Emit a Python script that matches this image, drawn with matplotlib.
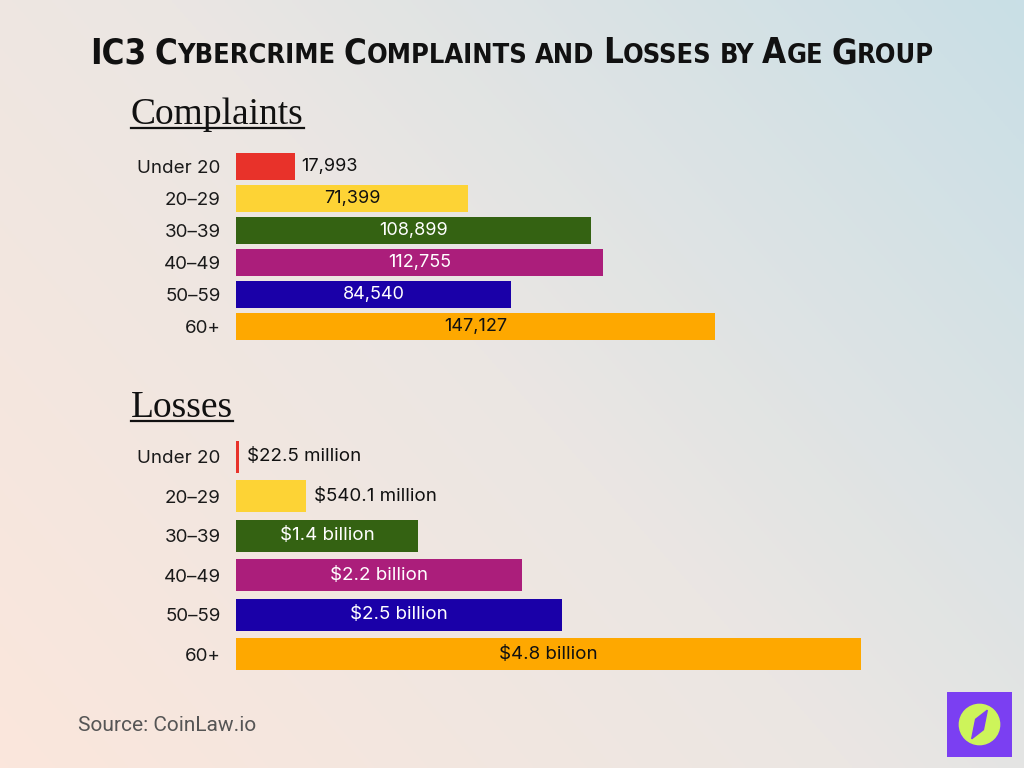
import matplotlib
matplotlib.use("Agg")
import matplotlib.pyplot as plt
import numpy as np
from matplotlib.colors import LinearSegmentedColormap
from matplotlib.patches import Rectangle, Circle, Polygon
from matplotlib.lines import Line2D

# ---------------- data ----------------
age_groups = ["Under 20", "20–29", "30–39", "40–49", "50–59", "60+"]
complaints = [17993, 71399, 108899, 112755, 84540, 147127]
complaint_labels = ["17,993", "71,399", "108,899", "112,755", "84,540", "147,127"]
losses_millions = [22.5, 540.1, 1400, 2200, 2500, 4800]
loss_labels = ["$22.5 million", "$540.1 million", "$1.4 billion",
               "$2.2 billion", "$2.5 billion", "$4.8 billion"]
bar_colors = ["#e8322a", "#fdd335", "#346212", "#ab1e7b", "#1a00a8", "#fea800"]
label_colors = ["#111111", "#111111", "#ffffff", "#ffffff", "#ffffff", "#111111"]
complaints_inside = [False, True, True, True, True, True]
losses_inside = [False, False, True, True, True, True]

W, H = 1024, 768
fig = plt.figure(figsize=(W / 100, H / 100), dpi=100)

# ---------------- background gradient ----------------
bg = fig.add_axes([0, 0, 1, 1], zorder=-10)
xx, yy = np.meshgrid(np.linspace(0, 1, 256), np.linspace(1, 0, 256))
t = (xx * 0.6 + yy * 0.4)
cmap = LinearSegmentedColormap.from_list(
    "bg", [(0, "#fbe6dc"), (0.5, "#ebe6e3"), (1, "#c9dfe6")])
bg.imshow(t, cmap=cmap, aspect="auto", extent=[0, 1, 0, 1], vmin=0, vmax=1)
bg.set_axis_off()

label_font = ["Inter", "DejaVu Sans"]


def px_axes(left, top, right, bottom):
    return fig.add_axes([left / W, 1 - bottom / H, (right - left) / W, (bottom - top) / H])


def draw_section(ax, values, labels, inside, vmax_px_value, bar_h, fs, vfs, off):
    y = np.arange(len(age_groups))
    ax.barh(y, values, height=bar_h, color=bar_colors, zorder=2)
    ax.set_ylim(len(age_groups) - 0.5, -0.5)
    ax.set_xlim(0, vmax_px_value)
    ax.set_yticks(y)
    ax.set_yticklabels(age_groups, fontsize=fs, family=label_font, color="#1a1a1a")
    ax.tick_params(axis="y", length=0, pad=11)
    ax.set_xticks([])
    for s in ax.spines.values():
        s.set_visible(False)
    ax.patch.set_alpha(0)
    for i, (v, lab, ins) in enumerate(zip(values, labels, inside)):
        if ins:
            ax.text(v / 2, i, lab, ha="center", va="center", fontsize=vfs,
                    family=label_font, color=label_colors[i], zorder=3)
        else:
            ax.annotate(lab, (v, i), xytext=(off, 0), textcoords="offset points",
                        ha="left", va="center", fontsize=vfs, family=label_font,
                        color="#111111", zorder=3)


# Complaints: bars start at x=236, 147,127 ends at x=715
ax1 = px_axes(236, 150, 900, 343)
draw_section(ax1, complaints, complaint_labels, complaints_inside,
             147127 * (900 - 236) / (715 - 236), 0.84, 13.5, 13, 5)

# Losses: bars start at x=236, 4.8 billion ends at x=861
ax2 = px_axes(236, 437, 950, 674)
draw_section(ax2, losses_millions, loss_labels, losses_inside,
             4800 * (950 - 236) / (861 - 236), 0.81, 13.5, 13.5, 5.5)

# ---------------- section headings ----------------
fig.canvas.draw()
renderer = fig.canvas.get_renderer()
for txt, ybase in [("Complaints", 124), ("Losses", 417)]:
    tt = fig.text(131 / W, 1 - ybase / H, txt, ha="left", va="baseline",
                  fontsize=27, family=["Liberation Serif", "DejaVu Serif"], color="#111111")
    bb = tt.get_window_extent(renderer)
    fig.add_artist(Line2D([bb.x0 / W, bb.x1 / W], [1 - (ybase + 4) / H] * 2,
                          color="#111111", lw=1.6))

# ---------------- title with small caps ----------------
title_words = ["IC3", "Cybercrime", "Complaints", "and", "Losses", "by", "Age", "Group"]
title_font = ["DejaVu Sans"]
target_w = 840.0


def build_title(big_fs, small_fs):
    pieces = []  # list of (string, size) or (None, size) for a space
    for wi, w in enumerate(title_words):
        if wi > 0:
            pieces.append((None, small_fs))
        for ch in w:
            if ch.isupper() or ch.isdigit():
                pieces.append((ch, big_fs))
            else:
                pieces.append((ch.upper(), small_fs))
    merged = []
    for c, s in pieces:
        if c is not None and merged and merged[-1][0] is not None and merged[-1][1] == s:
            merged[-1] = (merged[-1][0] + c, s)
        else:
            merged.append((c, s))
    x = 0.0
    ybase_title = 1 - 63 / H
    texts = []
    for c, s in merged:
        if c is None:
            x += s * 0.30 * 100 / 72 / W
            continue
        tt = fig.text(x, ybase_title, c, ha="left", va="baseline", fontsize=s,
                      family=title_font, weight="bold", stretch="condensed",
                      color="#111111")
        texts.append(tt)
        bb = tt.get_window_extent(renderer)
        x += bb.width / W
    return texts, x


texts, total = build_title(27, 21)
scale = target_w / (total * W)
for tt in texts:
    tt.remove()
texts, total = build_title(27 * scale, 21 * scale)
shift = 0.5 - total / 2
for tt in texts:
    px, py = tt.get_position()
    tt.set_position((px + shift, py))

# ---------------- source ----------------
fig.text(78 / W, 1 - 731 / H, "Source: CoinLaw.io", ha="left", va="baseline",
         fontsize=15, family=["Roboto", "DejaVu Sans"], color="#555555")

# ---------------- logo ----------------
lx0, ly0, lw = 947, 692, 65
logo = fig.add_axes([lx0 / W, 1 - (ly0 + lw) / H, lw / W, lw / H])
logo.set_xlim(0, 1)
logo.set_ylim(0, 1)
logo.set_axis_off()
logo.add_patch(Rectangle((0, 0), 1, 1, color="#7b3ff2"))
logo.add_patch(Circle((0.5, 0.5), 0.31, color="#cdf45a"))
logo.add_patch(Polygon([[0.62, 0.72], [0.56, 0.42], [0.38, 0.28], [0.44, 0.58]],
                       closed=True, color="#7b3ff2"))

fig.savefig("out.png", dpi=100)
